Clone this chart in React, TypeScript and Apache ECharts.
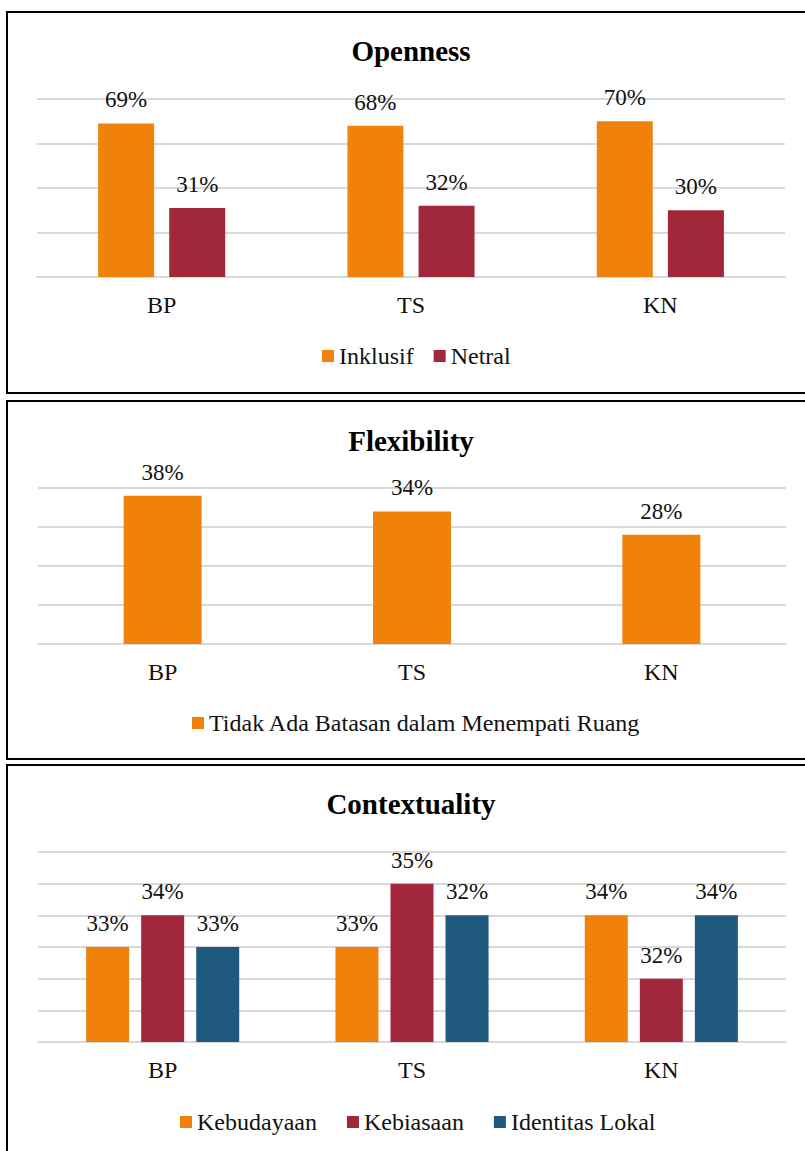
import React, { useEffect, useRef } from "react";
import * as echarts from "echarts";

const categories = ["BP", "TS", "KN"];

const opennessTitle = "Openness";
const opennessSeriesNames = ["Inklusif", "Netral"];
const inklusif = [69, 68, 70];
const netral = [31, 32, 30];

const flexibilityTitle = "Flexibility";
const flexibilitySeriesName = "Tidak Ada Batasan dalam Menempati Ruang";
const tidakAdaBatasan = [38, 34, 28];

const contextualityTitle = "Contextuality";
const contextualitySeriesNames = ["Kebudayaan", "Kebiasaan", "Identitas Lokal"];
const kebudayaan = [33, 33, 34];
const kebiasaan = [34, 35, 32];
const identitasLokal = [33, 34, 34];
const identitasLokalLabels = ["33%", "32%", "34%"];

const ORANGE = "#F0820B";
const RED = "#A1283A";
const BLUE = "#1F5A7E";
const FONT = "Liberation Serif";
const GRID_COLOR = "#d9d9d9";

export default function App() {
  const ref = useRef<HTMLDivElement>(null);

  useEffect(() => {
    if (!ref.current) return;
    const chart = echarts.init(ref.current, undefined, { renderer: "svg" });

    const labelStyle = {
      show: true,
      position: "top" as const,
      distance: 12,
      fontFamily: FONT,
      fontSize: 23,
      color: "#111",
      formatter: "{c}%",
    };

    const mkX = (gridIndex: number) => ({
      type: "category" as const,
      gridIndex,
      data: categories,
      axisTick: { show: false },
      axisLine: { show: true, lineStyle: { color: GRID_COLOR, width: 2 } },
      axisLabel: { fontFamily: FONT, fontSize: 24, color: "#111", margin: 16 },
    });
    const mkY = (gridIndex: number, min: number, max: number, interval: number) => ({
      type: "value" as const,
      gridIndex,
      min,
      max,
      interval,
      axisLabel: { show: false },
      axisLine: { show: false },
      axisTick: { show: false },
      splitLine: { show: true, lineStyle: { color: GRID_COLOR, width: 2 } },
    });
    const titleStyle = { fontFamily: FONT, fontSize: 29, fontWeight: "bold" as const, color: "#000" };
    const legendText = { fontFamily: FONT, fontSize: 24, color: "#111" };

    const option: any = {
      animation: false,
      backgroundColor: "#fff",
      textStyle: { fontFamily: FONT },
      graphic: [
        { type: "rect", shape: { x: 7, y: 12, width: 830, height: 381 }, style: { fill: "none", stroke: "#000", lineWidth: 2 } },
        { type: "rect", shape: { x: 7, y: 401, width: 830, height: 358 }, style: { fill: "none", stroke: "#000", lineWidth: 2 } },
        { type: "rect", shape: { x: 7, y: 765, width: 830, height: 420 }, style: { fill: "none", stroke: "#000", lineWidth: 2 } },
      ],
      title: [
        { text: opennessTitle, left: 411, top: 36, textAlign: "center", padding: 0, textStyle: titleStyle },
        { text: flexibilityTitle, left: 411, top: 426, textAlign: "center", padding: 0, textStyle: titleStyle },
        { text: contextualityTitle, left: 411, top: 789, textAlign: "center", padding: 0, textStyle: titleStyle },
      ],
      legend: [
        { data: opennessSeriesNames, left: 322, top: 344, padding: 0, itemWidth: 12, itemHeight: 12, itemGap: 20, icon: "rect", textStyle: legendText },
        { data: [flexibilitySeriesName], left: 192, top: 711, padding: 0, itemWidth: 12, itemHeight: 12, itemGap: 20, icon: "rect", textStyle: legendText },
        { data: contextualitySeriesNames, left: 180, top: 1110, padding: 0, itemWidth: 12, itemHeight: 12, itemGap: 30, icon: "rect", textStyle: legendText },
      ],
      grid: [
        { left: 37, width: 748, top: 99, height: 178 },
        { left: 38, width: 748, top: 488, height: 156 },
        { left: 38, width: 748, top: 852, height: 190 },
      ],
      xAxis: [mkX(0), mkX(1), mkX(2)],
      yAxis: [mkY(0, 0, 80, 20), mkY(1, 0, 40, 10), mkY(2, 30, 36, 1)],
      series: [
        { type: "bar", name: opennessSeriesNames[0], xAxisIndex: 0, yAxisIndex: 0, data: inklusif, barWidth: 56, barGap: "27%", itemStyle: { color: ORANGE }, label: labelStyle },
        { type: "bar", name: opennessSeriesNames[1], xAxisIndex: 0, yAxisIndex: 0, data: netral, barWidth: 56, barGap: "27%", itemStyle: { color: RED }, label: labelStyle },
        { type: "bar", name: flexibilitySeriesName, xAxisIndex: 1, yAxisIndex: 1, data: tidakAdaBatasan, barWidth: 78, itemStyle: { color: ORANGE }, label: labelStyle },
        { type: "bar", name: contextualitySeriesNames[0], xAxisIndex: 2, yAxisIndex: 2, data: kebudayaan, barWidth: 43, barGap: "28%", clip: true, itemStyle: { color: ORANGE }, label: labelStyle },
        { type: "bar", name: contextualitySeriesNames[1], xAxisIndex: 2, yAxisIndex: 2, data: kebiasaan, barWidth: 43, barGap: "28%", clip: true, itemStyle: { color: RED }, label: labelStyle },
        {
          type: "bar", name: contextualitySeriesNames[2], xAxisIndex: 2, yAxisIndex: 2, data: identitasLokal, barWidth: 43, barGap: "28%", clip: true,
          itemStyle: { color: BLUE },
          label: { ...labelStyle, formatter: (p: any) => identitasLokalLabels[p.dataIndex] },
        },
      ],
    };

    chart.setOption(option);
    return () => chart.dispose();
  }, []);

  return (
    <div style={{ position: "absolute", left: 0, top: 0, width: 805, height: 1151, overflow: "hidden", background: "#fff" }}>
      <div ref={ref} style={{ width: 822, height: 1151 }} />
    </div>
  );
}
